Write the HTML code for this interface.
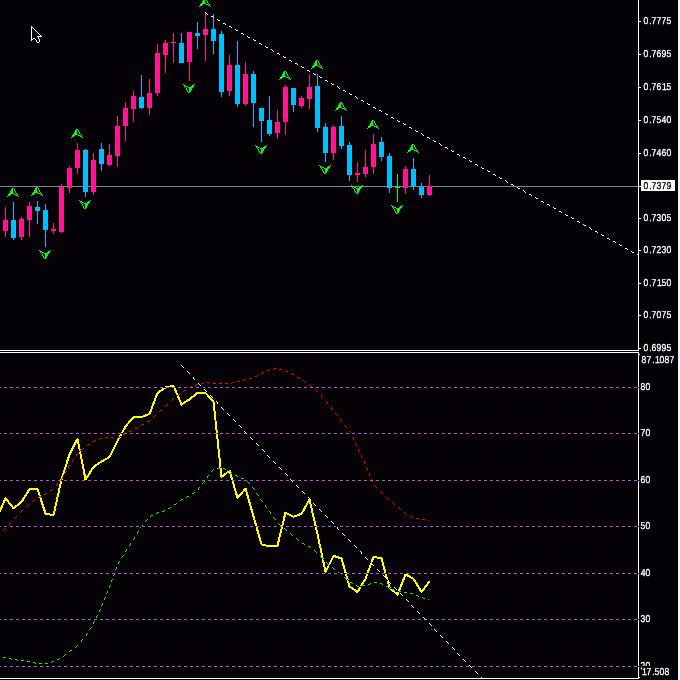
<!DOCTYPE html><html><head><meta charset="utf-8"><title>Chart</title><style>
html,body{margin:0;padding:0;background:#040206;overflow:hidden;}
svg{display:block;}
text{font-family:"Liberation Sans",sans-serif;font-size:10px;text-rendering:geometricPrecision;fill:#fff;}
.tx{will-change:transform;}.tx text{stroke-width:0.3px;paint-order:stroke;}
</style></head><body>
<svg width="680" height="680" viewBox="0 0 680 680">
<rect x="0" y="0" width="680" height="680" fill="#040206"/>
<rect x="678" y="0" width="2" height="680" fill="#FBF9F4"/>
<g shape-rendering="crispEdges">
<rect x="0" y="186" width="638" height="1" fill="#778899"/>
<rect x="5" y="207" width="1" height="30" fill="#FF1493"/>
<rect x="3" y="220" width="5" height="11" fill="#FF1493"/>
<rect x="13" y="202" width="1" height="38" fill="#00BFFF"/>
<rect x="11" y="220" width="5" height="18" fill="#00BFFF"/>
<rect x="21" y="217" width="1" height="23" fill="#FF1493"/>
<rect x="19" y="219" width="5" height="18" fill="#FF1493"/>
<rect x="29" y="202" width="1" height="35" fill="#FF1493"/>
<rect x="27" y="206" width="5" height="14" fill="#FF1493"/>
<rect x="37" y="201" width="1" height="23" fill="#00BFFF"/>
<rect x="35" y="207" width="5" height="4" fill="#00BFFF"/>
<rect x="45" y="204" width="1" height="43" fill="#00BFFF"/>
<rect x="43" y="210" width="5" height="20" fill="#00BFFF"/>
<rect x="53" y="223" width="1" height="11" fill="#FF1493"/>
<rect x="51" y="229" width="5" height="2" fill="#FF1493"/>
<rect x="61" y="184" width="1" height="49" fill="#FF1493"/>
<rect x="59" y="187" width="5" height="45" fill="#FF1493"/>
<rect x="69" y="166" width="1" height="27" fill="#FF1493"/>
<rect x="67" y="168" width="5" height="20" fill="#FF1493"/>
<rect x="77" y="143" width="1" height="31" fill="#FF1493"/>
<rect x="75" y="150" width="5" height="18" fill="#FF1493"/>
<rect x="85" y="149" width="1" height="48" fill="#00BFFF"/>
<rect x="83" y="150" width="5" height="42" fill="#00BFFF"/>
<rect x="93" y="153" width="1" height="42" fill="#FF1493"/>
<rect x="91" y="160" width="5" height="32" fill="#FF1493"/>
<rect x="101" y="143" width="1" height="28" fill="#00BFFF"/>
<rect x="99" y="149" width="5" height="15" fill="#00BFFF"/>
<rect x="109" y="144" width="1" height="22" fill="#FF1493"/>
<rect x="107" y="155" width="5" height="10" fill="#FF1493"/>
<rect x="117" y="116" width="1" height="51" fill="#FF1493"/>
<rect x="115" y="126" width="5" height="30" fill="#FF1493"/>
<rect x="125" y="102" width="1" height="39" fill="#FF1493"/>
<rect x="123" y="108" width="5" height="18" fill="#FF1493"/>
<rect x="133" y="91" width="1" height="31" fill="#FF1493"/>
<rect x="131" y="96" width="5" height="13" fill="#FF1493"/>
<rect x="141" y="75" width="1" height="34" fill="#00BFFF"/>
<rect x="139" y="97" width="5" height="11" fill="#00BFFF"/>
<rect x="149" y="79" width="1" height="36" fill="#FF1493"/>
<rect x="147" y="93" width="5" height="15" fill="#FF1493"/>
<rect x="157" y="44" width="1" height="52" fill="#FF1493"/>
<rect x="155" y="53" width="5" height="40" fill="#FF1493"/>
<rect x="165" y="40" width="1" height="33" fill="#FF1493"/>
<rect x="163" y="43" width="5" height="12" fill="#FF1493"/>
<rect x="173" y="33" width="1" height="30" fill="#FF1493"/>
<rect x="171" y="42" width="5" height="1" fill="#FF1493"/>
<rect x="181" y="33" width="1" height="30" fill="#00BFFF"/>
<rect x="179" y="43" width="5" height="20" fill="#00BFFF"/>
<rect x="189" y="32" width="1" height="49" fill="#FF1493"/>
<rect x="187" y="32" width="5" height="30" fill="#FF1493"/>
<rect x="197" y="22" width="1" height="27" fill="#00BFFF"/>
<rect x="195" y="33" width="5" height="3" fill="#00BFFF"/>
<rect x="205" y="12" width="1" height="49" fill="#FF1493"/>
<rect x="203" y="29" width="5" height="6" fill="#FF1493"/>
<rect x="213" y="14" width="1" height="40" fill="#00BFFF"/>
<rect x="211" y="29" width="5" height="12" fill="#00BFFF"/>
<rect x="221" y="31" width="1" height="66" fill="#00BFFF"/>
<rect x="219" y="34" width="5" height="58" fill="#00BFFF"/>
<rect x="229" y="55" width="1" height="41" fill="#FF1493"/>
<rect x="227" y="65" width="5" height="26" fill="#FF1493"/>
<rect x="237" y="41" width="1" height="66" fill="#00BFFF"/>
<rect x="235" y="65" width="5" height="39" fill="#00BFFF"/>
<rect x="245" y="62" width="1" height="44" fill="#FF1493"/>
<rect x="243" y="74" width="5" height="30" fill="#FF1493"/>
<rect x="253" y="71" width="1" height="56" fill="#00BFFF"/>
<rect x="251" y="74" width="5" height="29" fill="#00BFFF"/>
<rect x="261" y="108" width="1" height="34" fill="#00BFFF"/>
<rect x="259" y="108" width="5" height="13" fill="#00BFFF"/>
<rect x="269" y="96" width="1" height="40" fill="#00BFFF"/>
<rect x="267" y="120" width="5" height="14" fill="#00BFFF"/>
<rect x="277" y="110" width="1" height="29" fill="#FF1493"/>
<rect x="275" y="122" width="5" height="11" fill="#FF1493"/>
<rect x="285" y="85" width="1" height="50" fill="#FF1493"/>
<rect x="283" y="87" width="5" height="35" fill="#FF1493"/>
<rect x="293" y="88" width="1" height="24" fill="#00BFFF"/>
<rect x="291" y="88" width="5" height="17" fill="#00BFFF"/>
<rect x="301" y="96" width="1" height="12" fill="#FF1493"/>
<rect x="299" y="98" width="5" height="8" fill="#FF1493"/>
<rect x="309" y="74" width="1" height="35" fill="#FF1493"/>
<rect x="307" y="87" width="5" height="12" fill="#FF1493"/>
<rect x="317" y="74" width="1" height="58" fill="#00BFFF"/>
<rect x="315" y="86" width="5" height="42" fill="#00BFFF"/>
<rect x="325" y="123" width="1" height="39" fill="#00BFFF"/>
<rect x="323" y="127" width="5" height="26" fill="#00BFFF"/>
<rect x="333" y="125" width="1" height="35" fill="#FF1493"/>
<rect x="331" y="127" width="5" height="26" fill="#FF1493"/>
<rect x="341" y="116" width="1" height="33" fill="#00BFFF"/>
<rect x="339" y="126" width="5" height="20" fill="#00BFFF"/>
<rect x="349" y="142" width="1" height="39" fill="#00BFFF"/>
<rect x="347" y="145" width="5" height="30" fill="#00BFFF"/>
<rect x="357" y="162" width="1" height="20" fill="#FF1493"/>
<rect x="355" y="173" width="5" height="2" fill="#FF1493"/>
<rect x="365" y="150" width="1" height="27" fill="#FF1493"/>
<rect x="363" y="167" width="5" height="7" fill="#FF1493"/>
<rect x="373" y="134" width="1" height="40" fill="#FF1493"/>
<rect x="371" y="144" width="5" height="23" fill="#FF1493"/>
<rect x="381" y="137" width="1" height="24" fill="#00BFFF"/>
<rect x="379" y="142" width="5" height="15" fill="#00BFFF"/>
<rect x="389" y="153" width="1" height="40" fill="#00BFFF"/>
<rect x="387" y="156" width="5" height="32" fill="#00BFFF"/>
<rect x="397" y="174" width="1" height="28" fill="#00FF00"/>
<rect x="395" y="187" width="5" height="1" fill="#00FF00"/>
<rect x="405" y="166" width="1" height="28" fill="#FF1493"/>
<rect x="403" y="169" width="5" height="19" fill="#FF1493"/>
<rect x="413" y="158" width="1" height="32" fill="#00BFFF"/>
<rect x="411" y="169" width="5" height="17" fill="#00BFFF"/>
<rect x="421" y="183" width="1" height="15" fill="#00BFFF"/>
<rect x="419" y="187" width="5" height="8" fill="#00BFFF"/>
<rect x="429" y="175" width="1" height="21" fill="#FF1493"/>
<rect x="427" y="186" width="5" height="9" fill="#FF1493"/>
</g>
<path d="M12 188h2v1h-2zM11 189h2v1h-2zM14 189h1v1h-1zM11 190h2v1h-2zM14 190h1v1h-1zM10 191h3v1h-3zM15 191h1v1h-1zM10 192h3v1h-3zM15 192h1v1h-1zM9 193h5v1h-5zM16 193h1v1h-1zM8 194h3v1h-3zM14 194h2v1h-2zM17 194h1v1h-1zM8 195h2v1h-2zM16 195h2v1h-2zM7 196h1v1h-1zM18 196h1v1h-1z" fill="#00FF00" shape-rendering="crispEdges"/>
<path d="M36 187h2v1h-2zM35 188h2v1h-2zM38 188h1v1h-1zM35 189h2v1h-2zM38 189h1v1h-1zM34 190h3v1h-3zM39 190h1v1h-1zM34 191h3v1h-3zM39 191h1v1h-1zM33 192h5v1h-5zM40 192h1v1h-1zM32 193h3v1h-3zM38 193h2v1h-2zM41 193h1v1h-1zM32 194h2v1h-2zM40 194h2v1h-2zM31 195h1v1h-1zM42 195h1v1h-1z" fill="#00FF00" shape-rendering="crispEdges"/>
<path d="M76 129h2v1h-2zM75 130h2v1h-2zM78 130h1v1h-1zM75 131h2v1h-2zM78 131h1v1h-1zM74 132h3v1h-3zM79 132h1v1h-1zM74 133h3v1h-3zM79 133h1v1h-1zM73 134h5v1h-5zM80 134h1v1h-1zM72 135h3v1h-3zM78 135h2v1h-2zM81 135h1v1h-1zM72 136h2v1h-2zM80 136h2v1h-2zM71 137h1v1h-1zM82 137h1v1h-1z" fill="#00FF00" shape-rendering="crispEdges"/>
<path d="M204 -2h2v1h-2zM203 -1h2v1h-2zM206 -1h1v1h-1zM203 0h2v1h-2zM206 0h1v1h-1zM202 1h3v1h-3zM207 1h1v1h-1zM202 2h3v1h-3zM207 2h1v1h-1zM201 3h5v1h-5zM208 3h1v1h-1zM200 4h3v1h-3zM206 4h2v1h-2zM209 4h1v1h-1zM200 5h2v1h-2zM208 5h2v1h-2zM199 6h1v1h-1zM210 6h1v1h-1z" fill="#00FF00" shape-rendering="crispEdges"/>
<path d="M284 71h2v1h-2zM283 72h2v1h-2zM286 72h1v1h-1zM283 73h2v1h-2zM286 73h1v1h-1zM282 74h3v1h-3zM287 74h1v1h-1zM282 75h3v1h-3zM287 75h1v1h-1zM281 76h5v1h-5zM288 76h1v1h-1zM280 77h3v1h-3zM286 77h2v1h-2zM289 77h1v1h-1zM280 78h2v1h-2zM288 78h2v1h-2zM279 79h1v1h-1zM290 79h1v1h-1z" fill="#00FF00" shape-rendering="crispEdges"/>
<path d="M316 60h2v1h-2zM315 61h2v1h-2zM318 61h1v1h-1zM315 62h2v1h-2zM318 62h1v1h-1zM314 63h3v1h-3zM319 63h1v1h-1zM314 64h3v1h-3zM319 64h1v1h-1zM313 65h5v1h-5zM320 65h1v1h-1zM312 66h3v1h-3zM318 66h2v1h-2zM321 66h1v1h-1zM312 67h2v1h-2zM320 67h2v1h-2zM311 68h1v1h-1zM322 68h1v1h-1z" fill="#00FF00" shape-rendering="crispEdges"/>
<path d="M340 102h2v1h-2zM339 103h2v1h-2zM342 103h1v1h-1zM339 104h2v1h-2zM342 104h1v1h-1zM338 105h3v1h-3zM343 105h1v1h-1zM338 106h3v1h-3zM343 106h1v1h-1zM337 107h5v1h-5zM344 107h1v1h-1zM336 108h3v1h-3zM342 108h2v1h-2zM345 108h1v1h-1zM336 109h2v1h-2zM344 109h2v1h-2zM335 110h1v1h-1zM346 110h1v1h-1z" fill="#00FF00" shape-rendering="crispEdges"/>
<path d="M372 120h2v1h-2zM371 121h2v1h-2zM374 121h1v1h-1zM371 122h2v1h-2zM374 122h1v1h-1zM370 123h3v1h-3zM375 123h1v1h-1zM370 124h3v1h-3zM375 124h1v1h-1zM369 125h5v1h-5zM376 125h1v1h-1zM368 126h3v1h-3zM374 126h2v1h-2zM377 126h1v1h-1zM368 127h2v1h-2zM376 127h2v1h-2zM367 128h1v1h-1zM378 128h1v1h-1z" fill="#00FF00" shape-rendering="crispEdges"/>
<path d="M412 144h2v1h-2zM411 145h2v1h-2zM414 145h1v1h-1zM411 146h2v1h-2zM414 146h1v1h-1zM410 147h3v1h-3zM415 147h1v1h-1zM410 148h3v1h-3zM415 148h1v1h-1zM409 149h5v1h-5zM416 149h1v1h-1zM408 150h3v1h-3zM414 150h2v1h-2zM417 150h1v1h-1zM408 151h2v1h-2zM416 151h2v1h-2zM407 152h1v1h-1zM418 152h1v1h-1z" fill="#00FF00" shape-rendering="crispEdges"/>
<path d="M39 250h1v1h-1zM50 250h1v1h-1zM40 251h2v1h-2zM48 251h2v1h-2zM40 252h1v1h-1zM42 252h2v1h-2zM47 252h3v1h-3zM41 253h1v1h-1zM44 253h5v1h-5zM42 254h1v1h-1zM45 254h3v1h-3zM42 255h1v1h-1zM45 255h3v1h-3zM43 256h1v1h-1zM45 256h2v1h-2zM43 257h1v1h-1zM45 257h2v1h-2zM44 258h2v1h-2z" fill="#00FF00" shape-rendering="crispEdges"/>
<path d="M79 200h1v1h-1zM90 200h1v1h-1zM80 201h2v1h-2zM88 201h2v1h-2zM80 202h1v1h-1zM82 202h2v1h-2zM87 202h3v1h-3zM81 203h1v1h-1zM84 203h5v1h-5zM82 204h1v1h-1zM85 204h3v1h-3zM82 205h1v1h-1zM85 205h3v1h-3zM83 206h1v1h-1zM85 206h2v1h-2zM83 207h1v1h-1zM85 207h2v1h-2zM84 208h2v1h-2z" fill="#00FF00" shape-rendering="crispEdges"/>
<path d="M183 84h1v1h-1zM194 84h1v1h-1zM184 85h2v1h-2zM192 85h2v1h-2zM184 86h1v1h-1zM186 86h2v1h-2zM191 86h3v1h-3zM185 87h1v1h-1zM188 87h5v1h-5zM186 88h1v1h-1zM189 88h3v1h-3zM186 89h1v1h-1zM189 89h3v1h-3zM187 90h1v1h-1zM189 90h2v1h-2zM187 91h1v1h-1zM189 91h2v1h-2zM188 92h2v1h-2z" fill="#00FF00" shape-rendering="crispEdges"/>
<path d="M255 145h1v1h-1zM266 145h1v1h-1zM256 146h2v1h-2zM264 146h2v1h-2zM256 147h1v1h-1zM258 147h2v1h-2zM263 147h3v1h-3zM257 148h1v1h-1zM260 148h5v1h-5zM258 149h1v1h-1zM261 149h3v1h-3zM258 150h1v1h-1zM261 150h3v1h-3zM259 151h1v1h-1zM261 151h2v1h-2zM259 152h1v1h-1zM261 152h2v1h-2zM260 153h2v1h-2z" fill="#00FF00" shape-rendering="crispEdges"/>
<path d="M319 165h1v1h-1zM330 165h1v1h-1zM320 166h2v1h-2zM328 166h2v1h-2zM320 167h1v1h-1zM322 167h2v1h-2zM327 167h3v1h-3zM321 168h1v1h-1zM324 168h5v1h-5zM322 169h1v1h-1zM325 169h3v1h-3zM322 170h1v1h-1zM325 170h3v1h-3zM323 171h1v1h-1zM325 171h2v1h-2zM323 172h1v1h-1zM325 172h2v1h-2zM324 173h2v1h-2z" fill="#00FF00" shape-rendering="crispEdges"/>
<path d="M351 185h1v1h-1zM362 185h1v1h-1zM352 186h2v1h-2zM360 186h2v1h-2zM352 187h1v1h-1zM354 187h2v1h-2zM359 187h3v1h-3zM353 188h1v1h-1zM356 188h5v1h-5zM354 189h1v1h-1zM357 189h3v1h-3zM354 190h1v1h-1zM357 190h3v1h-3zM355 191h1v1h-1zM357 191h2v1h-2zM355 192h1v1h-1zM357 192h2v1h-2zM356 193h2v1h-2z" fill="#00FF00" shape-rendering="crispEdges"/>
<path d="M391 205h1v1h-1zM402 205h1v1h-1zM392 206h2v1h-2zM400 206h2v1h-2zM392 207h1v1h-1zM394 207h2v1h-2zM399 207h3v1h-3zM393 208h1v1h-1zM396 208h5v1h-5zM394 209h1v1h-1zM397 209h3v1h-3zM394 210h1v1h-1zM397 210h3v1h-3zM395 211h1v1h-1zM397 211h2v1h-2zM395 212h1v1h-1zM397 212h2v1h-2zM396 213h2v1h-2z" fill="#00FF00" shape-rendering="crispEdges"/>
<path d="M205 12h1v1h-1zM206 13h1v1h-1zM207 14h1v1h-1zM211 16h2v1h-2zM213 17h1v1h-1zM217 19h1v1h-1zM218 20h2v1h-2zM223 23h2v1h-2zM225 24h1v1h-1zM229 26h2v1h-2zM231 27h1v1h-1zM235 29h1v1h-1zM236 30h2v1h-2zM241 33h2v1h-2zM243 34h1v1h-1zM247 36h1v1h-1zM248 37h2v1h-2zM253 39h1v1h-1zM254 40h2v1h-2zM259 43h2v1h-2zM261 44h1v1h-1zM265 46h1v1h-1zM266 47h2v1h-2zM271 49h1v1h-1zM272 50h1v1h-1zM273 51h1v1h-1zM277 53h2v1h-2zM279 54h1v1h-1zM283 56h1v1h-1zM284 57h2v1h-2zM289 60h2v1h-2zM291 61h1v1h-1zM295 63h2v1h-2zM297 64h1v1h-1zM301 66h1v1h-1zM302 67h2v1h-2zM307 70h2v1h-2zM309 71h1v1h-1zM313 73h1v1h-1zM314 74h2v1h-2zM319 76h1v1h-1zM320 77h2v1h-2zM325 80h2v1h-2zM327 81h1v1h-1zM331 83h1v1h-1zM332 84h2v1h-2zM337 86h1v1h-1zM338 87h1v1h-1zM339 88h1v1h-1zM343 90h2v1h-2zM345 91h1v1h-1zM349 93h1v1h-1zM350 94h2v1h-2zM355 96h1v1h-1zM356 97h1v1h-1zM357 98h1v1h-1zM361 100h2v1h-2zM363 101h1v1h-1zM367 103h1v1h-1zM368 104h2v1h-2zM373 107h2v1h-2zM375 108h1v1h-1zM379 110h2v1h-2zM381 111h1v1h-1zM385 113h1v1h-1zM386 114h2v1h-2zM391 117h2v1h-2zM393 118h1v1h-1zM397 120h1v1h-1zM398 121h2v1h-2zM403 123h1v1h-1zM404 124h2v1h-2zM409 127h2v1h-2zM411 128h1v1h-1zM415 130h1v1h-1zM416 131h2v1h-2zM421 133h1v1h-1zM422 134h1v1h-1zM423 135h1v1h-1zM427 137h2v1h-2zM429 138h1v1h-1zM433 140h1v1h-1zM434 141h2v1h-2zM439 143h1v1h-1zM440 144h1v1h-1zM441 145h1v1h-1zM445 147h2v1h-2zM447 148h1v1h-1zM451 150h1v1h-1zM452 151h2v1h-2zM457 154h2v1h-2zM459 155h1v1h-1zM463 157h2v1h-2zM465 158h1v1h-1zM469 160h1v1h-1zM470 161h2v1h-2zM475 164h2v1h-2zM477 165h1v1h-1zM481 167h1v1h-1zM482 168h2v1h-2zM487 170h1v1h-1zM488 171h2v1h-2zM493 174h2v1h-2zM495 175h1v1h-1zM499 177h1v1h-1zM500 178h2v1h-2zM505 180h1v1h-1zM506 181h1v1h-1zM507 182h1v1h-1zM511 184h2v1h-2zM513 185h1v1h-1zM517 187h1v1h-1zM518 188h2v1h-2zM523 190h1v1h-1zM524 191h1v1h-1zM525 192h1v1h-1zM529 194h2v1h-2zM531 195h1v1h-1zM535 197h1v1h-1zM536 198h2v1h-2zM541 201h2v1h-2zM543 202h1v1h-1zM547 204h2v1h-2zM549 205h1v1h-1zM553 207h1v1h-1zM554 208h2v1h-2zM559 211h2v1h-2zM561 212h1v1h-1zM565 214h1v1h-1zM566 215h2v1h-2zM571 217h1v1h-1zM572 218h2v1h-2zM577 221h2v1h-2zM579 222h1v1h-1zM583 224h1v1h-1zM584 225h2v1h-2zM589 227h1v1h-1zM590 228h1v1h-1zM591 229h1v1h-1zM595 231h2v1h-2zM597 232h1v1h-1zM601 234h1v1h-1zM602 235h2v1h-2zM607 238h2v1h-2zM609 239h1v1h-1zM613 241h2v1h-2zM615 242h1v1h-1zM619 244h1v1h-1zM620 245h2v1h-2zM625 248h2v1h-2zM627 249h1v1h-1zM631 251h1v1h-1zM632 252h2v1h-2zM637 254h1v1h-1z" fill="#FFFFFF" shape-rendering="crispEdges"/>
<g shape-rendering="crispEdges" fill="#FFFFFF">
<rect x="0" y="350" width="639" height="1"/>
<rect x="638" y="0" width="1" height="351"/>
<rect x="0" y="352" width="639" height="1"/>
<rect x="638" y="352" width="1" height="327"/>
<rect x="0" y="678" width="639" height="1"/>
</g>
<g shape-rendering="crispEdges" fill="#FFFFFF">
<rect x="639" y="21" width="2" height="1"/>
<rect x="639" y="54" width="2" height="1"/>
<rect x="639" y="87" width="2" height="1"/>
<rect x="639" y="120" width="2" height="1"/>
<rect x="639" y="153" width="2" height="1"/>
<rect x="639" y="218" width="2" height="1"/>
<rect x="639" y="250" width="2" height="1"/>
<rect x="639" y="283" width="2" height="1"/>
<rect x="639" y="315" width="2" height="1"/>
<rect x="639" y="348" width="2" height="1"/>
</g>
<g class="tx">
<text transform="translate(0 24) scale(0.86 1)" x="748.38 755.01 757.68 763.49 769.31 775.14" y="0" style="fill:#FFFFFF;stroke:#FFFFFF">0.7775</text>
<text transform="translate(0 57) scale(0.86 1)" x="748.38 755.01 757.68 763.46 769.31 775.14" y="0" style="fill:#FFFFFF;stroke:#FFFFFF">0.7695</text>
<text transform="translate(0 90) scale(0.86 1)" x="748.38 755.01 757.68 763.46 769.76 775.14" y="0" style="fill:#FFFFFF;stroke:#FFFFFF">0.7615</text>
<text transform="translate(0 123) scale(0.86 1)" x="748.38 755.01 757.68 763.51 769.34 775.13" y="0" style="fill:#FFFFFF;stroke:#FFFFFF">0.7540</text>
<text transform="translate(0 156) scale(0.86 1)" x="748.38 755.01 757.68 763.53 769.28 775.13" y="0" style="fill:#FFFFFF;stroke:#FFFFFF">0.7460</text>
<text transform="translate(0 221) scale(0.86 1)" x="748.38 755.01 757.68 763.53 769.31 775.14" y="0" style="fill:#FFFFFF;stroke:#FFFFFF">0.7305</text>
<text transform="translate(0 253) scale(0.86 1)" x="748.38 755.01 757.68 763.50 769.34 775.13" y="0" style="fill:#FFFFFF;stroke:#FFFFFF">0.7230</text>
<text transform="translate(0 286) scale(0.86 1)" x="748.38 755.01 757.68 763.94 769.32 775.13" y="0" style="fill:#FFFFFF;stroke:#FFFFFF">0.7150</text>
<text transform="translate(0 318) scale(0.86 1)" x="748.38 755.01 757.68 763.50 769.31 775.14" y="0" style="fill:#FFFFFF;stroke:#FFFFFF">0.7075</text>
<text transform="translate(0 351) scale(0.86 1)" x="748.38 755.01 757.65 763.50 769.31 775.14" y="0" style="fill:#FFFFFF;stroke:#FFFFFF">0.6995</text>
</g>
<rect x="641" y="180" width="34" height="11" fill="#FFFFFF" shape-rendering="crispEdges"/>
<rect x="639" y="186" width="2" height="1" fill="#FFFFFF" shape-rendering="crispEdges"/>
<g class="tx"><text transform="translate(0 189) scale(0.86 1)" x="748.38 755.01 757.68 763.53 769.31 775.13" y="0" style="fill:#000000;stroke:#000000">0.7379</text></g>
<polyline points="-2.5,517.0 5.5,498.0 13.5,508.3 21.5,502.0 29.5,489.0 37.5,489.0 45.5,513.7 53.5,515.2 61.5,479.5 69.5,454.4 77.5,438.8 85.5,479.5 93.5,467.0 101.5,461.5 109.5,457.0 117.5,441.0 125.5,426.5 133.5,417.0 141.5,417.0 149.5,414.0 157.5,393.0 165.5,387.4 173.5,385.8 181.5,404.5 189.5,399.4 197.5,392.9 205.5,392.9 213.5,401.5 221.5,477.0 229.5,470.6 237.5,498.0 245.5,488.6 253.5,516.5 261.5,544.3 269.5,546.5 277.5,545.6 285.5,512.6 293.5,516.8 301.5,513.8 309.5,499.7 317.5,534.1 325.5,572.0 333.5,555.9 341.5,558.5 349.5,586.5 357.5,592.0 365.5,578.8 373.5,556.8 381.5,558.5 389.5,587.6 397.5,594.7 405.5,574.3 413.5,578.8 421.5,592.0 429.5,581.5" fill="none" stroke="#FFFF00" stroke-width="2" stroke-linejoin="round" shape-rendering="crispEdges"/>
<path d="M276 368h3v1h-3zM270 369h3v1h-3zM282 369h1v1h-1zM283 370h2v1h-2zM265 371h2v1h-2zM264 372h1v1h-1zM288 372h2v1h-2zM290 373h1v1h-1zM259 374h2v1h-2zM258 375h1v1h-1zM294 375h2v1h-2zM296 376h1v1h-1zM252 377h3v1h-3zM248 378h1v1h-1zM300 378h1v1h-1zM246 379h2v1h-2zM301 379h1v1h-1zM240 380h3v1h-3zM302 380h1v1h-1zM236 381h1v1h-1zM204 382h3v1h-3zM234 382h2v1h-2zM306 382h1v1h-1zM200 383h1v1h-1zM210 383h3v1h-3zM216 383h3v1h-3zM222 383h3v1h-3zM228 383h3v1h-3zM307 383h2v1h-2zM198 384h2v1h-2zM194 385h1v1h-1zM192 386h2v1h-2zM312 387h1v1h-1zM187 388h2v1h-2zM313 388h2v1h-2zM186 389h1v1h-1zM182 391h1v1h-1zM181 392h1v1h-1zM318 392h1v1h-1zM180 393h1v1h-1zM319 393h1v1h-1zM320 394h1v1h-1zM176 396h1v1h-1zM174 397h2v1h-2zM323 398h1v1h-1zM324 399h1v1h-1zM325 400h1v1h-1zM170 401h1v1h-1zM169 402h1v1h-1zM168 403h1v1h-1zM328 404h1v1h-1zM329 405h1v1h-1zM330 406h1v1h-1zM164 407h1v1h-1zM163 408h1v1h-1zM162 409h1v1h-1zM333 410h1v1h-1zM334 411h1v1h-1zM158 412h1v1h-1zM334 412h1v1h-1zM157 413h1v1h-1zM156 414h1v1h-1zM337 416h1v1h-1zM152 417h1v1h-1zM338 417h1v1h-1zM151 418h1v1h-1zM339 418h1v1h-1zM150 419h1v1h-1zM146 422h1v1h-1zM342 422h1v1h-1zM144 423h2v1h-2zM343 423h1v1h-1zM343 424h1v1h-1zM139 426h2v1h-2zM138 427h1v1h-1zM347 428h1v1h-1zM133 429h2v1h-2zM347 429h1v1h-1zM132 430h1v1h-1zM348 430h1v1h-1zM127 432h2v1h-2zM126 433h1v1h-1zM351 434h1v1h-1zM122 435h1v1h-1zM351 435h1v1h-1zM120 436h2v1h-2zM352 436h1v1h-1zM108 437h3v1h-3zM102 438h3v1h-3zM114 438h3v1h-3zM98 439h1v1h-1zM96 440h2v1h-2zM354 440h1v1h-1zM354 441h1v1h-1zM91 442h2v1h-2zM355 442h1v1h-1zM90 443h1v1h-1zM86 445h1v1h-1zM85 446h1v1h-1zM357 446h1v1h-1zM84 447h1v1h-1zM357 447h1v1h-1zM357 448h1v1h-1zM80 450h1v1h-1zM79 451h1v1h-1zM78 452h1v1h-1zM359 452h1v1h-1zM360 453h1v1h-1zM360 454h1v1h-1zM75 456h1v1h-1zM74 457h1v1h-1zM74 458h1v1h-1zM362 458h1v1h-1zM363 459h1v1h-1zM363 460h1v1h-1zM71 462h1v1h-1zM70 463h1v1h-1zM70 464h1v1h-1zM365 464h1v1h-1zM365 465h1v1h-1zM366 466h1v1h-1zM67 468h1v1h-1zM67 469h1v1h-1zM66 470h1v1h-1zM367 470h1v1h-1zM368 471h1v1h-1zM368 472h1v1h-1zM64 474h1v1h-1zM63 475h1v1h-1zM63 476h1v1h-1zM370 476h1v1h-1zM370 477h1v1h-1zM371 478h1v1h-1zM60 480h1v1h-1zM59 481h1v1h-1zM58 482h1v1h-1zM372 482h1v1h-1zM373 483h1v1h-1zM373 484h1v1h-1zM55 486h1v1h-1zM54 487h1v1h-1zM53 488h1v1h-1zM377 488h1v1h-1zM378 489h1v1h-1zM379 490h1v1h-1zM49 491h1v1h-1zM48 492h1v1h-1zM47 493h1v1h-1zM383 494h1v1h-1zM42 495h2v1h-2zM384 495h1v1h-1zM41 496h1v1h-1zM385 496h1v1h-1zM37 497h1v1h-1zM36 498h1v1h-1zM35 499h1v1h-1zM389 500h1v1h-1zM390 501h1v1h-1zM30 502h2v1h-2zM391 502h1v1h-1zM29 503h1v1h-1zM395 505h2v1h-2zM397 506h1v1h-1zM25 507h1v1h-1zM24 508h1v1h-1zM23 509h1v1h-1zM401 510h2v1h-2zM403 511h1v1h-1zM19 513h1v1h-1zM18 514h1v1h-1zM407 514h1v1h-1zM17 515h1v1h-1zM408 515h2v1h-2zM413 517h2v1h-2zM415 518h1v1h-1zM13 519h1v1h-1zM419 519h3v1h-3zM12 520h1v1h-1zM425 520h3v1h-3zM11 521h1v1h-1zM8 525h1v1h-1zM7 526h1v1h-1zM6 527h1v1h-1zM2 531h1v1h-1zM1 532h1v1h-1zM0 533h1v1h-1z" fill="#040206" shape-rendering="crispEdges"/><path d="M274 368h2v1h-2zM269 369h1v1h-1zM273 369h1v1h-1zM279 369h3v1h-3zM267 370h2v1h-2zM285 370h1v1h-1zM286 371h2v1h-2zM263 372h1v1h-1zM261 373h2v1h-2zM291 373h1v1h-1zM292 374h2v1h-2zM257 375h1v1h-1zM255 376h2v1h-2zM297 377h2v1h-2zM249 378h3v1h-3zM299 378h1v1h-1zM244 379h2v1h-2zM243 380h1v1h-1zM303 380h1v1h-1zM237 381h3v1h-3zM304 381h1v1h-1zM207 382h2v1h-2zM232 382h2v1h-2zM305 382h1v1h-1zM201 383h3v1h-3zM209 383h1v1h-1zM213 383h3v1h-3zM219 383h3v1h-3zM225 383h3v1h-3zM231 383h1v1h-1zM196 384h2v1h-2zM309 384h1v1h-1zM195 385h1v1h-1zM310 385h1v1h-1zM191 386h1v1h-1zM311 386h1v1h-1zM189 387h2v1h-2zM315 389h1v1h-1zM184 390h2v1h-2zM316 390h1v1h-1zM183 391h1v1h-1zM317 391h1v1h-1zM178 394h2v1h-2zM177 395h1v1h-1zM321 395h1v1h-1zM321 396h1v1h-1zM322 397h1v1h-1zM173 398h1v1h-1zM172 399h1v1h-1zM171 400h1v1h-1zM326 401h1v1h-1zM327 402h1v1h-1zM327 403h1v1h-1zM167 404h1v1h-1zM166 405h1v1h-1zM165 406h1v1h-1zM331 407h1v1h-1zM331 408h1v1h-1zM332 409h1v1h-1zM160 410h2v1h-2zM159 411h1v1h-1zM335 413h1v1h-1zM336 414h1v1h-1zM155 415h1v1h-1zM337 415h1v1h-1zM154 416h1v1h-1zM153 417h1v1h-1zM340 419h1v1h-1zM149 420h1v1h-1zM340 420h1v1h-1zM147 421h2v1h-2zM341 421h1v1h-1zM142 424h2v1h-2zM141 425h1v1h-1zM344 425h1v1h-1zM345 426h1v1h-1zM137 427h1v1h-1zM346 427h1v1h-1zM135 428h2v1h-2zM131 430h1v1h-1zM129 431h2v1h-2zM349 431h1v1h-1zM350 432h1v1h-1zM125 433h1v1h-1zM350 433h1v1h-1zM123 434h2v1h-2zM106 437h2v1h-2zM111 437h2v1h-2zM118 437h2v1h-2zM352 437h1v1h-1zM100 438h2v1h-2zM105 438h1v1h-1zM113 438h1v1h-1zM117 438h1v1h-1zM353 438h1v1h-1zM99 439h1v1h-1zM353 439h1v1h-1zM95 440h1v1h-1zM93 441h2v1h-2zM355 443h1v1h-1zM88 444h2v1h-2zM356 444h1v1h-1zM87 445h1v1h-1zM356 445h1v1h-1zM83 448h1v1h-1zM82 449h1v1h-1zM358 449h1v1h-1zM81 450h1v1h-1zM358 450h1v1h-1zM359 451h1v1h-1zM77 453h1v1h-1zM76 454h1v1h-1zM76 455h1v1h-1zM361 455h1v1h-1zM361 456h1v1h-1zM362 457h1v1h-1zM73 459h1v1h-1zM72 460h1v1h-1zM72 461h1v1h-1zM364 461h1v1h-1zM364 462h1v1h-1zM365 463h1v1h-1zM69 465h1v1h-1zM68 466h1v1h-1zM68 467h1v1h-1zM366 467h1v1h-1zM367 468h1v1h-1zM367 469h1v1h-1zM66 471h1v1h-1zM65 472h1v1h-1zM64 473h1v1h-1zM369 473h1v1h-1zM369 474h1v1h-1zM369 475h1v1h-1zM62 477h1v1h-1zM62 478h1v1h-1zM61 479h1v1h-1zM371 479h1v1h-1zM371 480h1v1h-1zM372 481h1v1h-1zM57 483h1v1h-1zM57 484h1v1h-1zM56 485h1v1h-1zM374 485h1v1h-1zM375 486h1v1h-1zM376 487h1v1h-1zM52 489h1v1h-1zM50 490h2v1h-2zM380 491h1v1h-1zM381 492h1v1h-1zM46 493h1v1h-1zM382 493h1v1h-1zM44 494h2v1h-2zM39 496h2v1h-2zM38 497h1v1h-1zM386 497h1v1h-1zM387 498h1v1h-1zM34 499h1v1h-1zM388 499h1v1h-1zM33 500h1v1h-1zM32 501h1v1h-1zM392 502h1v1h-1zM393 503h1v1h-1zM28 504h1v1h-1zM394 504h1v1h-1zM27 505h1v1h-1zM26 506h1v1h-1zM398 507h1v1h-1zM399 508h1v1h-1zM400 509h1v1h-1zM22 510h1v1h-1zM21 511h1v1h-1zM20 512h1v1h-1zM404 512h1v1h-1zM405 513h1v1h-1zM406 514h1v1h-1zM16 516h1v1h-1zM410 516h2v1h-2zM15 517h1v1h-1zM412 517h1v1h-1zM14 518h1v1h-1zM416 518h3v1h-3zM422 519h3v1h-3zM428 520h1v1h-1zM10 522h1v1h-1zM9 523h1v1h-1zM9 524h1v1h-1zM5 528h1v1h-1zM4 529h1v1h-1zM3 530h1v1h-1zM-1 534h1v1h-1zM-2 535h1v1h-1zM-3 536h1v1h-1z" fill="#FF0000" shape-rendering="crispEdges"/>
<path d="M220 467h3v1h-3zM216 468h1v1h-1zM214 469h2v1h-2zM226 469h2v1h-2zM228 470h1v1h-1zM211 472h1v1h-1zM232 472h1v1h-1zM210 473h1v1h-1zM233 473h1v1h-1zM209 474h1v1h-1zM234 474h1v1h-1zM238 476h1v1h-1zM239 477h2v1h-2zM206 478h1v1h-1zM205 479h1v1h-1zM244 479h2v1h-2zM204 480h1v1h-1zM246 480h1v1h-1zM201 484h1v1h-1zM249 484h1v1h-1zM201 485h1v1h-1zM250 485h1v1h-1zM200 486h1v1h-1zM251 486h1v1h-1zM197 490h1v1h-1zM254 490h1v1h-1zM195 491h2v1h-2zM255 491h1v1h-1zM256 492h1v1h-1zM190 494h2v1h-2zM189 495h1v1h-1zM258 496h1v1h-1zM185 497h1v1h-1zM259 497h1v1h-1zM183 498h2v1h-2zM260 498h1v1h-1zM178 501h2v1h-2zM177 502h1v1h-1zM262 502h1v1h-1zM263 503h1v1h-1zM264 504h1v1h-1zM173 505h1v1h-1zM171 506h2v1h-2zM267 508h1v1h-1zM166 509h2v1h-2zM268 509h1v1h-1zM165 510h1v1h-1zM268 510h1v1h-1zM160 511h2v1h-2zM159 512h1v1h-1zM155 513h1v1h-1zM153 514h2v1h-2zM271 514h1v1h-1zM272 515h1v1h-1zM149 516h1v1h-1zM273 516h1v1h-1zM148 517h1v1h-1zM147 518h1v1h-1zM276 520h1v1h-1zM276 521h1v1h-1zM144 522h1v1h-1zM277 522h1v1h-1zM143 523h1v1h-1zM143 524h1v1h-1zM281 526h2v1h-2zM283 527h1v1h-1zM140 528h1v1h-1zM139 529h1v1h-1zM139 530h1v1h-1zM287 531h1v1h-1zM288 532h1v1h-1zM289 533h1v1h-1zM136 534h1v1h-1zM135 535h1v1h-1zM135 536h1v1h-1zM293 536h1v1h-1zM294 537h1v1h-1zM295 538h1v1h-1zM132 540h1v1h-1zM132 541h1v1h-1zM299 541h2v1h-2zM131 542h1v1h-1zM301 542h1v1h-1zM305 544h1v1h-1zM306 545h2v1h-2zM128 546h1v1h-1zM128 547h1v1h-1zM127 548h1v1h-1zM311 548h1v1h-1zM312 549h1v1h-1zM313 550h1v1h-1zM124 552h1v1h-1zM124 553h1v1h-1zM317 553h1v1h-1zM123 554h1v1h-1zM318 554h1v1h-1zM319 555h1v1h-1zM121 558h1v1h-1zM120 559h1v1h-1zM323 559h1v1h-1zM119 560h1v1h-1zM324 560h1v1h-1zM325 561h1v1h-1zM117 564h1v1h-1zM117 565h1v1h-1zM329 565h2v1h-2zM116 566h1v1h-1zM331 566h1v1h-1zM115 570h1v1h-1zM335 570h2v1h-2zM115 571h1v1h-1zM337 571h1v1h-1zM114 572h1v1h-1zM341 574h1v1h-1zM342 575h1v1h-1zM113 576h1v1h-1zM343 576h1v1h-1zM112 577h1v1h-1zM112 578h1v1h-1zM347 579h1v1h-1zM348 580h1v1h-1zM349 581h1v1h-1zM111 582h1v1h-1zM372 582h2v1h-2zM110 583h1v1h-1zM371 583h1v1h-1zM377 583h3v1h-3zM110 584h1v1h-1zM353 584h2v1h-2zM367 584h1v1h-1zM383 584h1v1h-1zM355 585h1v1h-1zM365 585h2v1h-2zM384 585h2v1h-2zM359 586h3v1h-3zM389 587h1v1h-1zM109 588h1v1h-1zM390 588h2v1h-2zM108 589h1v1h-1zM108 590h1v1h-1zM395 590h1v1h-1zM396 591h2v1h-2zM401 592h3v1h-3zM407 592h2v1h-2zM409 593h1v1h-1zM413 593h1v1h-1zM106 594h1v1h-1zM414 594h2v1h-2zM106 595h1v1h-1zM105 596h1v1h-1zM419 596h1v1h-1zM420 597h2v1h-2zM425 598h2v1h-2zM427 599h1v1h-1zM104 600h1v1h-1zM103 601h1v1h-1zM103 602h1v1h-1zM101 606h1v1h-1zM101 607h1v1h-1zM100 608h1v1h-1zM98 612h1v1h-1zM98 613h1v1h-1zM97 614h1v1h-1zM95 618h1v1h-1zM95 619h1v1h-1zM94 620h1v1h-1zM92 624h1v1h-1zM92 625h1v1h-1zM91 626h1v1h-1zM89 630h1v1h-1zM88 631h1v1h-1zM87 632h1v1h-1zM85 636h1v1h-1zM84 637h1v1h-1zM83 638h1v1h-1zM80 642h1v1h-1zM79 643h1v1h-1zM78 644h1v1h-1zM74 647h1v1h-1zM73 648h1v1h-1zM72 649h1v1h-1zM68 652h1v1h-1zM66 653h2v1h-2zM0 656h1v1h-1zM62 656h1v1h-1zM1 657h2v1h-2zM6 657h1v1h-1zM61 657h1v1h-1zM7 658h2v1h-2zM60 658h1v1h-1zM12 659h3v1h-3zM18 660h3v1h-3zM24 660h1v1h-1zM55 660h2v1h-2zM25 661h2v1h-2zM30 661h1v1h-1zM54 661h1v1h-1zM31 662h2v1h-2zM48 662h3v1h-3zM36 663h3v1h-3zM42 663h3v1h-3z" fill="#040206" shape-rendering="crispEdges"/><path d="M217 468h3v1h-3zM223 468h2v1h-2zM213 469h1v1h-1zM225 469h1v1h-1zM212 470h1v1h-1zM229 470h1v1h-1zM211 471h1v1h-1zM230 471h1v1h-1zM231 472h1v1h-1zM208 475h1v1h-1zM235 475h2v1h-2zM207 476h1v1h-1zM237 476h1v1h-1zM207 477h1v1h-1zM241 478h3v1h-3zM204 481h1v1h-1zM247 481h1v1h-1zM203 482h1v1h-1zM248 482h1v1h-1zM202 483h1v1h-1zM249 483h1v1h-1zM199 487h1v1h-1zM252 487h1v1h-1zM198 488h1v1h-1zM253 488h1v1h-1zM198 489h1v1h-1zM254 489h1v1h-1zM194 492h1v1h-1zM192 493h2v1h-2zM256 493h1v1h-1zM257 494h1v1h-1zM258 495h1v1h-1zM187 496h2v1h-2zM186 497h1v1h-1zM181 499h2v1h-2zM260 499h1v1h-1zM180 500h1v1h-1zM261 500h1v1h-1zM262 501h1v1h-1zM176 503h1v1h-1zM174 504h2v1h-2zM265 505h1v1h-1zM265 506h1v1h-1zM170 507h1v1h-1zM266 507h1v1h-1zM168 508h2v1h-2zM164 510h1v1h-1zM162 511h2v1h-2zM269 511h1v1h-1zM157 512h2v1h-2zM270 512h1v1h-1zM156 513h1v1h-1zM270 513h1v1h-1zM151 515h2v1h-2zM150 516h1v1h-1zM273 517h1v1h-1zM274 518h1v1h-1zM147 519h1v1h-1zM275 519h1v1h-1zM146 520h1v1h-1zM145 521h1v1h-1zM278 523h1v1h-1zM279 524h1v1h-1zM142 525h1v1h-1zM280 525h1v1h-1zM141 526h1v1h-1zM140 527h1v1h-1zM284 528h1v1h-1zM285 529h1v1h-1zM286 530h1v1h-1zM138 531h1v1h-1zM137 532h1v1h-1zM137 533h1v1h-1zM290 533h1v1h-1zM291 534h1v1h-1zM292 535h1v1h-1zM134 537h1v1h-1zM134 538h1v1h-1zM296 538h1v1h-1zM133 539h1v1h-1zM297 539h1v1h-1zM298 540h1v1h-1zM130 543h1v1h-1zM302 543h2v1h-2zM130 544h1v1h-1zM304 544h1v1h-1zM129 545h1v1h-1zM308 546h2v1h-2zM310 547h1v1h-1zM126 549h1v1h-1zM126 550h1v1h-1zM314 550h1v1h-1zM125 551h1v1h-1zM315 551h1v1h-1zM316 552h1v1h-1zM123 555h1v1h-1zM122 556h1v1h-1zM320 556h1v1h-1zM121 557h1v1h-1zM321 557h1v1h-1zM322 558h1v1h-1zM119 561h1v1h-1zM118 562h1v1h-1zM326 562h1v1h-1zM118 563h1v1h-1zM327 563h1v1h-1zM328 564h1v1h-1zM116 567h1v1h-1zM332 567h1v1h-1zM116 568h1v1h-1zM333 568h1v1h-1zM115 569h1v1h-1zM334 569h1v1h-1zM338 572h1v1h-1zM114 573h1v1h-1zM339 573h2v1h-2zM114 574h1v1h-1zM113 575h1v1h-1zM344 577h1v1h-1zM345 578h2v1h-2zM112 579h1v1h-1zM111 580h1v1h-1zM111 581h1v1h-1zM350 582h2v1h-2zM374 582h3v1h-3zM352 583h1v1h-1zM370 583h1v1h-1zM380 583h2v1h-2zM368 584h2v1h-2zM382 584h1v1h-1zM110 585h1v1h-1zM356 585h1v1h-1zM362 585h3v1h-3zM109 586h1v1h-1zM357 586h2v1h-2zM386 586h2v1h-2zM109 587h1v1h-1zM388 587h1v1h-1zM392 589h2v1h-2zM394 590h1v1h-1zM107 591h1v1h-1zM398 591h3v1h-3zM107 592h1v1h-1zM404 592h3v1h-3zM106 593h1v1h-1zM410 593h3v1h-3zM416 595h2v1h-2zM418 596h1v1h-1zM105 597h1v1h-1zM422 597h1v1h-1zM104 598h1v1h-1zM423 598h2v1h-2zM104 599h1v1h-1zM428 599h1v1h-1zM102 603h1v1h-1zM102 604h1v1h-1zM101 605h1v1h-1zM100 609h1v1h-1zM99 610h1v1h-1zM99 611h1v1h-1zM97 615h1v1h-1zM96 616h1v1h-1zM96 617h1v1h-1zM94 621h1v1h-1zM93 622h1v1h-1zM93 623h1v1h-1zM91 627h1v1h-1zM90 628h1v1h-1zM89 629h1v1h-1zM87 633h1v1h-1zM86 634h1v1h-1zM86 635h1v1h-1zM82 639h1v1h-1zM81 640h1v1h-1zM81 641h1v1h-1zM77 645h1v1h-1zM76 646h1v1h-1zM75 647h1v1h-1zM70 650h2v1h-2zM69 651h1v1h-1zM65 654h1v1h-1zM64 655h1v1h-1zM-3 656h3v1h-3zM63 656h1v1h-1zM3 657h3v1h-3zM9 658h2v1h-2zM59 658h1v1h-1zM11 659h1v1h-1zM15 659h2v1h-2zM57 659h2v1h-2zM17 660h1v1h-1zM21 660h3v1h-3zM27 661h3v1h-3zM52 661h2v1h-2zM33 662h2v1h-2zM51 662h1v1h-1zM35 663h1v1h-1zM39 663h3v1h-3zM45 663h3v1h-3z" fill="#00FF00" shape-rendering="crispEdges"/>
<g shape-rendering="crispEdges"><rect x="0" y="0" width="0" height="0"/>
<rect x="0" y="387" width="639" height="1" fill="#040206"/>
<path d="M0 387h1v1h-1zM4 387h3v1h-3zM10 387h3v1h-3zM16 387h3v1h-3zM22 387h3v1h-3zM28 387h3v1h-3zM34 387h3v1h-3zM40 387h3v1h-3zM46 387h3v1h-3zM52 387h3v1h-3zM58 387h3v1h-3zM64 387h3v1h-3zM70 387h3v1h-3zM76 387h3v1h-3zM82 387h3v1h-3zM88 387h3v1h-3zM94 387h3v1h-3zM100 387h3v1h-3zM106 387h3v1h-3zM112 387h3v1h-3zM118 387h3v1h-3zM124 387h3v1h-3zM130 387h3v1h-3zM136 387h3v1h-3zM142 387h3v1h-3zM148 387h3v1h-3zM154 387h3v1h-3zM160 387h3v1h-3zM166 387h3v1h-3zM172 387h3v1h-3zM178 387h3v1h-3zM184 387h3v1h-3zM190 387h3v1h-3zM196 387h3v1h-3zM202 387h3v1h-3zM208 387h3v1h-3zM214 387h3v1h-3zM220 387h3v1h-3zM226 387h3v1h-3zM232 387h3v1h-3zM238 387h3v1h-3zM244 387h3v1h-3zM250 387h3v1h-3zM256 387h3v1h-3zM262 387h3v1h-3zM268 387h3v1h-3zM274 387h3v1h-3zM280 387h3v1h-3zM286 387h3v1h-3zM292 387h3v1h-3zM298 387h3v1h-3zM304 387h3v1h-3zM310 387h3v1h-3zM316 387h3v1h-3zM322 387h3v1h-3zM328 387h3v1h-3zM334 387h3v1h-3zM340 387h3v1h-3zM346 387h3v1h-3zM352 387h3v1h-3zM358 387h3v1h-3zM364 387h3v1h-3zM370 387h3v1h-3zM376 387h3v1h-3zM382 387h3v1h-3zM388 387h3v1h-3zM394 387h3v1h-3zM400 387h3v1h-3zM406 387h3v1h-3zM412 387h3v1h-3zM418 387h3v1h-3zM424 387h3v1h-3zM430 387h3v1h-3zM436 387h3v1h-3zM442 387h3v1h-3zM448 387h3v1h-3zM454 387h3v1h-3zM460 387h3v1h-3zM466 387h3v1h-3zM472 387h3v1h-3zM478 387h3v1h-3zM484 387h3v1h-3zM490 387h3v1h-3zM496 387h3v1h-3zM502 387h3v1h-3zM508 387h3v1h-3zM514 387h3v1h-3zM520 387h3v1h-3zM526 387h3v1h-3zM532 387h3v1h-3zM538 387h3v1h-3zM544 387h3v1h-3zM550 387h3v1h-3zM556 387h3v1h-3zM562 387h3v1h-3zM568 387h3v1h-3zM574 387h3v1h-3zM580 387h3v1h-3zM586 387h3v1h-3zM592 387h3v1h-3zM598 387h3v1h-3zM604 387h3v1h-3zM610 387h3v1h-3zM616 387h3v1h-3zM622 387h3v1h-3zM628 387h3v1h-3zM634 387h3v1h-3z" fill="#BA55D3"/>
<rect x="0" y="433" width="639" height="1" fill="#040206"/>
<path d="M0 433h1v1h-1zM4 433h3v1h-3zM10 433h3v1h-3zM16 433h3v1h-3zM22 433h3v1h-3zM28 433h3v1h-3zM34 433h3v1h-3zM40 433h3v1h-3zM46 433h3v1h-3zM52 433h3v1h-3zM58 433h3v1h-3zM64 433h3v1h-3zM70 433h3v1h-3zM76 433h3v1h-3zM82 433h3v1h-3zM88 433h3v1h-3zM94 433h3v1h-3zM100 433h3v1h-3zM106 433h3v1h-3zM112 433h3v1h-3zM118 433h3v1h-3zM124 433h3v1h-3zM130 433h3v1h-3zM136 433h3v1h-3zM142 433h3v1h-3zM148 433h3v1h-3zM154 433h3v1h-3zM160 433h3v1h-3zM166 433h3v1h-3zM172 433h3v1h-3zM178 433h3v1h-3zM184 433h3v1h-3zM190 433h3v1h-3zM196 433h3v1h-3zM202 433h3v1h-3zM208 433h3v1h-3zM214 433h3v1h-3zM220 433h3v1h-3zM226 433h3v1h-3zM232 433h3v1h-3zM238 433h3v1h-3zM244 433h3v1h-3zM250 433h3v1h-3zM256 433h3v1h-3zM262 433h3v1h-3zM268 433h3v1h-3zM274 433h3v1h-3zM280 433h3v1h-3zM286 433h3v1h-3zM292 433h3v1h-3zM298 433h3v1h-3zM304 433h3v1h-3zM310 433h3v1h-3zM316 433h3v1h-3zM322 433h3v1h-3zM328 433h3v1h-3zM334 433h3v1h-3zM340 433h3v1h-3zM346 433h3v1h-3zM352 433h3v1h-3zM358 433h3v1h-3zM364 433h3v1h-3zM370 433h3v1h-3zM376 433h3v1h-3zM382 433h3v1h-3zM388 433h3v1h-3zM394 433h3v1h-3zM400 433h3v1h-3zM406 433h3v1h-3zM412 433h3v1h-3zM418 433h3v1h-3zM424 433h3v1h-3zM430 433h3v1h-3zM436 433h3v1h-3zM442 433h3v1h-3zM448 433h3v1h-3zM454 433h3v1h-3zM460 433h3v1h-3zM466 433h3v1h-3zM472 433h3v1h-3zM478 433h3v1h-3zM484 433h3v1h-3zM490 433h3v1h-3zM496 433h3v1h-3zM502 433h3v1h-3zM508 433h3v1h-3zM514 433h3v1h-3zM520 433h3v1h-3zM526 433h3v1h-3zM532 433h3v1h-3zM538 433h3v1h-3zM544 433h3v1h-3zM550 433h3v1h-3zM556 433h3v1h-3zM562 433h3v1h-3zM568 433h3v1h-3zM574 433h3v1h-3zM580 433h3v1h-3zM586 433h3v1h-3zM592 433h3v1h-3zM598 433h3v1h-3zM604 433h3v1h-3zM610 433h3v1h-3zM616 433h3v1h-3zM622 433h3v1h-3zM628 433h3v1h-3zM634 433h3v1h-3z" fill="#BA55D3"/>
<rect x="0" y="480" width="639" height="1" fill="#040206"/>
<path d="M0 480h1v1h-1zM4 480h3v1h-3zM10 480h3v1h-3zM16 480h3v1h-3zM22 480h3v1h-3zM28 480h3v1h-3zM34 480h3v1h-3zM40 480h3v1h-3zM46 480h3v1h-3zM52 480h3v1h-3zM58 480h3v1h-3zM64 480h3v1h-3zM70 480h3v1h-3zM76 480h3v1h-3zM82 480h3v1h-3zM88 480h3v1h-3zM94 480h3v1h-3zM100 480h3v1h-3zM106 480h3v1h-3zM112 480h3v1h-3zM118 480h3v1h-3zM124 480h3v1h-3zM130 480h3v1h-3zM136 480h3v1h-3zM142 480h3v1h-3zM148 480h3v1h-3zM154 480h3v1h-3zM160 480h3v1h-3zM166 480h3v1h-3zM172 480h3v1h-3zM178 480h3v1h-3zM184 480h3v1h-3zM190 480h3v1h-3zM196 480h3v1h-3zM202 480h3v1h-3zM208 480h3v1h-3zM214 480h3v1h-3zM220 480h3v1h-3zM226 480h3v1h-3zM232 480h3v1h-3zM238 480h3v1h-3zM244 480h3v1h-3zM250 480h3v1h-3zM256 480h3v1h-3zM262 480h3v1h-3zM268 480h3v1h-3zM274 480h3v1h-3zM280 480h3v1h-3zM286 480h3v1h-3zM292 480h3v1h-3zM298 480h3v1h-3zM304 480h3v1h-3zM310 480h3v1h-3zM316 480h3v1h-3zM322 480h3v1h-3zM328 480h3v1h-3zM334 480h3v1h-3zM340 480h3v1h-3zM346 480h3v1h-3zM352 480h3v1h-3zM358 480h3v1h-3zM364 480h3v1h-3zM370 480h3v1h-3zM376 480h3v1h-3zM382 480h3v1h-3zM388 480h3v1h-3zM394 480h3v1h-3zM400 480h3v1h-3zM406 480h3v1h-3zM412 480h3v1h-3zM418 480h3v1h-3zM424 480h3v1h-3zM430 480h3v1h-3zM436 480h3v1h-3zM442 480h3v1h-3zM448 480h3v1h-3zM454 480h3v1h-3zM460 480h3v1h-3zM466 480h3v1h-3zM472 480h3v1h-3zM478 480h3v1h-3zM484 480h3v1h-3zM490 480h3v1h-3zM496 480h3v1h-3zM502 480h3v1h-3zM508 480h3v1h-3zM514 480h3v1h-3zM520 480h3v1h-3zM526 480h3v1h-3zM532 480h3v1h-3zM538 480h3v1h-3zM544 480h3v1h-3zM550 480h3v1h-3zM556 480h3v1h-3zM562 480h3v1h-3zM568 480h3v1h-3zM574 480h3v1h-3zM580 480h3v1h-3zM586 480h3v1h-3zM592 480h3v1h-3zM598 480h3v1h-3zM604 480h3v1h-3zM610 480h3v1h-3zM616 480h3v1h-3zM622 480h3v1h-3zM628 480h3v1h-3zM634 480h3v1h-3z" fill="#BA55D3"/>
<rect x="0" y="526" width="639" height="1" fill="#040206"/>
<path d="M0 526h1v1h-1zM4 526h3v1h-3zM10 526h3v1h-3zM16 526h3v1h-3zM22 526h3v1h-3zM28 526h3v1h-3zM34 526h3v1h-3zM40 526h3v1h-3zM46 526h3v1h-3zM52 526h3v1h-3zM58 526h3v1h-3zM64 526h3v1h-3zM70 526h3v1h-3zM76 526h3v1h-3zM82 526h3v1h-3zM88 526h3v1h-3zM94 526h3v1h-3zM100 526h3v1h-3zM106 526h3v1h-3zM112 526h3v1h-3zM118 526h3v1h-3zM124 526h3v1h-3zM130 526h3v1h-3zM136 526h3v1h-3zM142 526h3v1h-3zM148 526h3v1h-3zM154 526h3v1h-3zM160 526h3v1h-3zM166 526h3v1h-3zM172 526h3v1h-3zM178 526h3v1h-3zM184 526h3v1h-3zM190 526h3v1h-3zM196 526h3v1h-3zM202 526h3v1h-3zM208 526h3v1h-3zM214 526h3v1h-3zM220 526h3v1h-3zM226 526h3v1h-3zM232 526h3v1h-3zM238 526h3v1h-3zM244 526h3v1h-3zM250 526h3v1h-3zM256 526h3v1h-3zM262 526h3v1h-3zM268 526h3v1h-3zM274 526h3v1h-3zM280 526h3v1h-3zM286 526h3v1h-3zM292 526h3v1h-3zM298 526h3v1h-3zM304 526h3v1h-3zM310 526h3v1h-3zM316 526h3v1h-3zM322 526h3v1h-3zM328 526h3v1h-3zM334 526h3v1h-3zM340 526h3v1h-3zM346 526h3v1h-3zM352 526h3v1h-3zM358 526h3v1h-3zM364 526h3v1h-3zM370 526h3v1h-3zM376 526h3v1h-3zM382 526h3v1h-3zM388 526h3v1h-3zM394 526h3v1h-3zM400 526h3v1h-3zM406 526h3v1h-3zM412 526h3v1h-3zM418 526h3v1h-3zM424 526h3v1h-3zM430 526h3v1h-3zM436 526h3v1h-3zM442 526h3v1h-3zM448 526h3v1h-3zM454 526h3v1h-3zM460 526h3v1h-3zM466 526h3v1h-3zM472 526h3v1h-3zM478 526h3v1h-3zM484 526h3v1h-3zM490 526h3v1h-3zM496 526h3v1h-3zM502 526h3v1h-3zM508 526h3v1h-3zM514 526h3v1h-3zM520 526h3v1h-3zM526 526h3v1h-3zM532 526h3v1h-3zM538 526h3v1h-3zM544 526h3v1h-3zM550 526h3v1h-3zM556 526h3v1h-3zM562 526h3v1h-3zM568 526h3v1h-3zM574 526h3v1h-3zM580 526h3v1h-3zM586 526h3v1h-3zM592 526h3v1h-3zM598 526h3v1h-3zM604 526h3v1h-3zM610 526h3v1h-3zM616 526h3v1h-3zM622 526h3v1h-3zM628 526h3v1h-3zM634 526h3v1h-3z" fill="#BA55D3"/>
<rect x="0" y="573" width="639" height="1" fill="#040206"/>
<path d="M0 573h1v1h-1zM4 573h3v1h-3zM10 573h3v1h-3zM16 573h3v1h-3zM22 573h3v1h-3zM28 573h3v1h-3zM34 573h3v1h-3zM40 573h3v1h-3zM46 573h3v1h-3zM52 573h3v1h-3zM58 573h3v1h-3zM64 573h3v1h-3zM70 573h3v1h-3zM76 573h3v1h-3zM82 573h3v1h-3zM88 573h3v1h-3zM94 573h3v1h-3zM100 573h3v1h-3zM106 573h3v1h-3zM112 573h3v1h-3zM118 573h3v1h-3zM124 573h3v1h-3zM130 573h3v1h-3zM136 573h3v1h-3zM142 573h3v1h-3zM148 573h3v1h-3zM154 573h3v1h-3zM160 573h3v1h-3zM166 573h3v1h-3zM172 573h3v1h-3zM178 573h3v1h-3zM184 573h3v1h-3zM190 573h3v1h-3zM196 573h3v1h-3zM202 573h3v1h-3zM208 573h3v1h-3zM214 573h3v1h-3zM220 573h3v1h-3zM226 573h3v1h-3zM232 573h3v1h-3zM238 573h3v1h-3zM244 573h3v1h-3zM250 573h3v1h-3zM256 573h3v1h-3zM262 573h3v1h-3zM268 573h3v1h-3zM274 573h3v1h-3zM280 573h3v1h-3zM286 573h3v1h-3zM292 573h3v1h-3zM298 573h3v1h-3zM304 573h3v1h-3zM310 573h3v1h-3zM316 573h3v1h-3zM322 573h3v1h-3zM328 573h3v1h-3zM334 573h3v1h-3zM340 573h3v1h-3zM346 573h3v1h-3zM352 573h3v1h-3zM358 573h3v1h-3zM364 573h3v1h-3zM370 573h3v1h-3zM376 573h3v1h-3zM382 573h3v1h-3zM388 573h3v1h-3zM394 573h3v1h-3zM400 573h3v1h-3zM406 573h3v1h-3zM412 573h3v1h-3zM418 573h3v1h-3zM424 573h3v1h-3zM430 573h3v1h-3zM436 573h3v1h-3zM442 573h3v1h-3zM448 573h3v1h-3zM454 573h3v1h-3zM460 573h3v1h-3zM466 573h3v1h-3zM472 573h3v1h-3zM478 573h3v1h-3zM484 573h3v1h-3zM490 573h3v1h-3zM496 573h3v1h-3zM502 573h3v1h-3zM508 573h3v1h-3zM514 573h3v1h-3zM520 573h3v1h-3zM526 573h3v1h-3zM532 573h3v1h-3zM538 573h3v1h-3zM544 573h3v1h-3zM550 573h3v1h-3zM556 573h3v1h-3zM562 573h3v1h-3zM568 573h3v1h-3zM574 573h3v1h-3zM580 573h3v1h-3zM586 573h3v1h-3zM592 573h3v1h-3zM598 573h3v1h-3zM604 573h3v1h-3zM610 573h3v1h-3zM616 573h3v1h-3zM622 573h3v1h-3zM628 573h3v1h-3zM634 573h3v1h-3z" fill="#BA55D3"/>
<rect x="0" y="619" width="639" height="1" fill="#040206"/>
<path d="M0 619h1v1h-1zM4 619h3v1h-3zM10 619h3v1h-3zM16 619h3v1h-3zM22 619h3v1h-3zM28 619h3v1h-3zM34 619h3v1h-3zM40 619h3v1h-3zM46 619h3v1h-3zM52 619h3v1h-3zM58 619h3v1h-3zM64 619h3v1h-3zM70 619h3v1h-3zM76 619h3v1h-3zM82 619h3v1h-3zM88 619h3v1h-3zM94 619h3v1h-3zM100 619h3v1h-3zM106 619h3v1h-3zM112 619h3v1h-3zM118 619h3v1h-3zM124 619h3v1h-3zM130 619h3v1h-3zM136 619h3v1h-3zM142 619h3v1h-3zM148 619h3v1h-3zM154 619h3v1h-3zM160 619h3v1h-3zM166 619h3v1h-3zM172 619h3v1h-3zM178 619h3v1h-3zM184 619h3v1h-3zM190 619h3v1h-3zM196 619h3v1h-3zM202 619h3v1h-3zM208 619h3v1h-3zM214 619h3v1h-3zM220 619h3v1h-3zM226 619h3v1h-3zM232 619h3v1h-3zM238 619h3v1h-3zM244 619h3v1h-3zM250 619h3v1h-3zM256 619h3v1h-3zM262 619h3v1h-3zM268 619h3v1h-3zM274 619h3v1h-3zM280 619h3v1h-3zM286 619h3v1h-3zM292 619h3v1h-3zM298 619h3v1h-3zM304 619h3v1h-3zM310 619h3v1h-3zM316 619h3v1h-3zM322 619h3v1h-3zM328 619h3v1h-3zM334 619h3v1h-3zM340 619h3v1h-3zM346 619h3v1h-3zM352 619h3v1h-3zM358 619h3v1h-3zM364 619h3v1h-3zM370 619h3v1h-3zM376 619h3v1h-3zM382 619h3v1h-3zM388 619h3v1h-3zM394 619h3v1h-3zM400 619h3v1h-3zM406 619h3v1h-3zM412 619h3v1h-3zM418 619h3v1h-3zM424 619h3v1h-3zM430 619h3v1h-3zM436 619h3v1h-3zM442 619h3v1h-3zM448 619h3v1h-3zM454 619h3v1h-3zM460 619h3v1h-3zM466 619h3v1h-3zM472 619h3v1h-3zM478 619h3v1h-3zM484 619h3v1h-3zM490 619h3v1h-3zM496 619h3v1h-3zM502 619h3v1h-3zM508 619h3v1h-3zM514 619h3v1h-3zM520 619h3v1h-3zM526 619h3v1h-3zM532 619h3v1h-3zM538 619h3v1h-3zM544 619h3v1h-3zM550 619h3v1h-3zM556 619h3v1h-3zM562 619h3v1h-3zM568 619h3v1h-3zM574 619h3v1h-3zM580 619h3v1h-3zM586 619h3v1h-3zM592 619h3v1h-3zM598 619h3v1h-3zM604 619h3v1h-3zM610 619h3v1h-3zM616 619h3v1h-3zM622 619h3v1h-3zM628 619h3v1h-3zM634 619h3v1h-3z" fill="#BA55D3"/>
<rect x="0" y="666" width="639" height="1" fill="#040206"/>
<path d="M0 666h1v1h-1zM4 666h3v1h-3zM10 666h3v1h-3zM16 666h3v1h-3zM22 666h3v1h-3zM28 666h3v1h-3zM34 666h3v1h-3zM40 666h3v1h-3zM46 666h3v1h-3zM52 666h3v1h-3zM58 666h3v1h-3zM64 666h3v1h-3zM70 666h3v1h-3zM76 666h3v1h-3zM82 666h3v1h-3zM88 666h3v1h-3zM94 666h3v1h-3zM100 666h3v1h-3zM106 666h3v1h-3zM112 666h3v1h-3zM118 666h3v1h-3zM124 666h3v1h-3zM130 666h3v1h-3zM136 666h3v1h-3zM142 666h3v1h-3zM148 666h3v1h-3zM154 666h3v1h-3zM160 666h3v1h-3zM166 666h3v1h-3zM172 666h3v1h-3zM178 666h3v1h-3zM184 666h3v1h-3zM190 666h3v1h-3zM196 666h3v1h-3zM202 666h3v1h-3zM208 666h3v1h-3zM214 666h3v1h-3zM220 666h3v1h-3zM226 666h3v1h-3zM232 666h3v1h-3zM238 666h3v1h-3zM244 666h3v1h-3zM250 666h3v1h-3zM256 666h3v1h-3zM262 666h3v1h-3zM268 666h3v1h-3zM274 666h3v1h-3zM280 666h3v1h-3zM286 666h3v1h-3zM292 666h3v1h-3zM298 666h3v1h-3zM304 666h3v1h-3zM310 666h3v1h-3zM316 666h3v1h-3zM322 666h3v1h-3zM328 666h3v1h-3zM334 666h3v1h-3zM340 666h3v1h-3zM346 666h3v1h-3zM352 666h3v1h-3zM358 666h3v1h-3zM364 666h3v1h-3zM370 666h3v1h-3zM376 666h3v1h-3zM382 666h3v1h-3zM388 666h3v1h-3zM394 666h3v1h-3zM400 666h3v1h-3zM406 666h3v1h-3zM412 666h3v1h-3zM418 666h3v1h-3zM424 666h3v1h-3zM430 666h3v1h-3zM436 666h3v1h-3zM442 666h3v1h-3zM448 666h3v1h-3zM454 666h3v1h-3zM460 666h3v1h-3zM466 666h3v1h-3zM472 666h3v1h-3zM478 666h3v1h-3zM484 666h3v1h-3zM490 666h3v1h-3zM496 666h3v1h-3zM502 666h3v1h-3zM508 666h3v1h-3zM514 666h3v1h-3zM520 666h3v1h-3zM526 666h3v1h-3zM532 666h3v1h-3zM538 666h3v1h-3zM544 666h3v1h-3zM550 666h3v1h-3zM556 666h3v1h-3zM562 666h3v1h-3zM568 666h3v1h-3zM574 666h3v1h-3zM580 666h3v1h-3zM586 666h3v1h-3zM592 666h3v1h-3zM598 666h3v1h-3zM604 666h3v1h-3zM610 666h3v1h-3zM616 666h3v1h-3zM622 666h3v1h-3zM628 666h3v1h-3zM634 666h3v1h-3z" fill="#BA55D3"/>
</g>
<path d="M184 368h1v1h-1zM185 369h1v1h-1zM186 370h1v1h-1zM190 374h1v1h-1zM191 375h1v1h-1zM192 376h1v1h-1zM195 380h1v1h-1zM196 381h1v1h-1zM197 382h1v1h-1zM201 386h1v1h-1zM202 387h1v1h-1zM203 388h1v1h-1zM207 392h1v1h-1zM208 393h1v1h-1zM209 394h1v1h-1zM213 398h1v1h-1zM214 399h1v1h-1zM215 400h1v1h-1zM218 404h1v1h-1zM219 405h1v1h-1zM220 406h1v1h-1zM224 410h1v1h-1zM225 411h1v1h-1zM226 412h1v1h-1zM230 416h1v1h-1zM231 417h1v1h-1zM232 418h1v1h-1zM236 422h1v1h-1zM237 423h1v1h-1zM238 424h1v1h-1zM241 428h1v1h-1zM242 429h1v1h-1zM243 430h1v1h-1zM247 434h1v1h-1zM248 435h1v1h-1zM249 436h1v1h-1zM253 440h1v1h-1zM254 441h1v1h-1zM255 442h1v1h-1zM259 446h1v1h-1zM260 447h1v1h-1zM261 448h1v1h-1zM265 452h1v1h-1zM265 453h1v1h-1zM266 454h1v1h-1zM270 458h1v1h-1zM271 459h1v1h-1zM272 460h1v1h-1zM276 464h1v1h-1zM277 465h1v1h-1zM278 466h1v1h-1zM282 470h1v1h-1zM283 471h1v1h-1zM284 472h1v1h-1zM288 476h1v1h-1zM289 477h1v1h-1zM289 478h1v1h-1zM293 482h1v1h-1zM294 483h1v1h-1zM295 484h1v1h-1zM299 488h1v1h-1zM300 489h1v1h-1zM301 490h1v1h-1zM305 494h1v1h-1zM306 495h1v1h-1zM307 496h1v1h-1zM311 500h1v1h-1zM312 501h1v1h-1zM313 502h1v1h-1zM316 506h1v1h-1zM317 507h1v1h-1zM318 508h1v1h-1zM322 512h1v1h-1zM323 513h1v1h-1zM324 514h1v1h-1zM328 518h1v1h-1zM329 519h1v1h-1zM330 520h1v1h-1zM334 524h1v1h-1zM335 525h1v1h-1zM336 526h1v1h-1zM339 530h1v1h-1zM340 531h1v1h-1zM341 532h1v1h-1zM345 536h1v1h-1zM346 537h1v1h-1zM347 538h1v1h-1zM351 542h1v1h-1zM352 543h1v1h-1zM353 544h1v1h-1zM357 548h1v1h-1zM358 549h1v1h-1zM359 550h1v1h-1zM362 554h1v1h-1zM363 555h1v1h-1zM364 556h1v1h-1zM368 560h1v1h-1zM369 561h1v1h-1zM370 562h1v1h-1zM374 566h1v1h-1zM375 567h1v1h-1zM376 568h1v1h-1zM380 572h1v1h-1zM381 573h1v1h-1zM382 574h1v1h-1zM385 578h1v1h-1zM386 579h1v1h-1zM387 580h1v1h-1zM391 584h1v1h-1zM392 585h1v1h-1zM393 586h1v1h-1zM397 590h1v1h-1zM398 591h1v1h-1zM399 592h1v1h-1zM403 596h1v1h-1zM404 597h1v1h-1zM405 598h1v1h-1zM409 602h1v1h-1zM409 603h1v1h-1zM410 604h1v1h-1zM414 608h1v1h-1zM415 609h1v1h-1zM416 610h1v1h-1zM420 614h1v1h-1zM421 615h1v1h-1zM422 616h1v1h-1zM426 620h1v1h-1zM427 621h1v1h-1zM428 622h1v1h-1zM432 626h1v1h-1zM433 627h1v1h-1zM433 628h1v1h-1zM437 632h1v1h-1zM438 633h1v1h-1zM439 634h1v1h-1zM443 638h1v1h-1zM444 639h1v1h-1zM445 640h1v1h-1zM449 644h1v1h-1zM450 645h1v1h-1zM451 646h1v1h-1zM455 650h1v1h-1zM456 651h1v1h-1zM457 652h1v1h-1zM460 656h1v1h-1zM461 657h1v1h-1zM462 658h1v1h-1zM466 662h1v1h-1zM467 663h1v1h-1zM468 664h1v1h-1zM472 668h1v1h-1zM473 669h1v1h-1zM474 670h1v1h-1zM478 674h1v1h-1zM479 675h1v1h-1zM480 676h1v1h-1z" fill="#040206" shape-rendering="crispEdges"/><path d="M181 365h1v1h-1zM182 366h1v1h-1zM183 367h1v1h-1zM187 371h1v1h-1zM188 372h1v1h-1zM189 373h1v1h-1zM193 377h1v1h-1zM193 378h1v1h-1zM194 379h1v1h-1zM198 383h1v1h-1zM199 384h1v1h-1zM200 385h1v1h-1zM204 389h1v1h-1zM205 390h1v1h-1zM206 391h1v1h-1zM210 395h1v1h-1zM211 396h1v1h-1zM212 397h1v1h-1zM216 401h1v1h-1zM217 402h1v1h-1zM217 403h1v1h-1zM221 407h1v1h-1zM222 408h1v1h-1zM223 409h1v1h-1zM227 413h1v1h-1zM228 414h1v1h-1zM229 415h1v1h-1zM233 419h1v1h-1zM234 420h1v1h-1zM235 421h1v1h-1zM239 425h1v1h-1zM240 426h1v1h-1zM241 427h1v1h-1zM244 431h1v1h-1zM245 432h1v1h-1zM246 433h1v1h-1zM250 437h1v1h-1zM251 438h1v1h-1zM252 439h1v1h-1zM256 443h1v1h-1zM257 444h1v1h-1zM258 445h1v1h-1zM262 449h1v1h-1zM263 450h1v1h-1zM264 451h1v1h-1zM267 455h1v1h-1zM268 456h1v1h-1zM269 457h1v1h-1zM273 461h1v1h-1zM274 462h1v1h-1zM275 463h1v1h-1zM279 467h1v1h-1zM280 468h1v1h-1zM281 469h1v1h-1zM285 473h1v1h-1zM286 474h1v1h-1zM287 475h1v1h-1zM290 479h1v1h-1zM291 480h1v1h-1zM292 481h1v1h-1zM296 485h1v1h-1zM297 486h1v1h-1zM298 487h1v1h-1zM302 491h1v1h-1zM303 492h1v1h-1zM304 493h1v1h-1zM308 497h1v1h-1zM309 498h1v1h-1zM310 499h1v1h-1zM313 503h1v1h-1zM314 504h1v1h-1zM315 505h1v1h-1zM319 509h1v1h-1zM320 510h1v1h-1zM321 511h1v1h-1zM325 515h1v1h-1zM326 516h1v1h-1zM327 517h1v1h-1zM331 521h1v1h-1zM332 522h1v1h-1zM333 523h1v1h-1zM337 527h1v1h-1zM337 528h1v1h-1zM338 529h1v1h-1zM342 533h1v1h-1zM343 534h1v1h-1zM344 535h1v1h-1zM348 539h1v1h-1zM349 540h1v1h-1zM350 541h1v1h-1zM354 545h1v1h-1zM355 546h1v1h-1zM356 547h1v1h-1zM360 551h1v1h-1zM361 552h1v1h-1zM361 553h1v1h-1zM365 557h1v1h-1zM366 558h1v1h-1zM367 559h1v1h-1zM371 563h1v1h-1zM372 564h1v1h-1zM373 565h1v1h-1zM377 569h1v1h-1zM378 570h1v1h-1zM379 571h1v1h-1zM383 575h1v1h-1zM384 576h1v1h-1zM385 577h1v1h-1zM388 581h1v1h-1zM389 582h1v1h-1zM390 583h1v1h-1zM394 587h1v1h-1zM395 588h1v1h-1zM396 589h1v1h-1zM400 593h1v1h-1zM401 594h1v1h-1zM402 595h1v1h-1zM406 599h1v1h-1zM407 600h1v1h-1zM408 601h1v1h-1zM411 605h1v1h-1zM412 606h1v1h-1zM413 607h1v1h-1zM417 611h1v1h-1zM418 612h1v1h-1zM419 613h1v1h-1zM423 617h1v1h-1zM424 618h1v1h-1zM425 619h1v1h-1zM429 623h1v1h-1zM430 624h1v1h-1zM431 625h1v1h-1zM434 629h1v1h-1zM435 630h1v1h-1zM436 631h1v1h-1zM440 635h1v1h-1zM441 636h1v1h-1zM442 637h1v1h-1zM446 641h1v1h-1zM447 642h1v1h-1zM448 643h1v1h-1zM452 647h1v1h-1zM453 648h1v1h-1zM454 649h1v1h-1zM457 653h1v1h-1zM458 654h1v1h-1zM459 655h1v1h-1zM463 659h1v1h-1zM464 660h1v1h-1zM465 661h1v1h-1zM469 665h1v1h-1zM470 666h1v1h-1zM471 667h1v1h-1zM475 671h1v1h-1zM476 672h1v1h-1zM477 673h1v1h-1zM481 677h1v1h-1zM482 678h1v1h-1z" fill="#FFFFFF" shape-rendering="crispEdges"/>
<g shape-rendering="crispEdges" fill="#FFFFFF">
<rect x="639" y="354" width="1" height="1"/>
</g>
<g class="tx">
<text transform="translate(0 390) scale(0.86 1)" x="744.89 750.71" y="0" style="fill:#FFFFFF;stroke:#FFFFFF">80</text>
<text transform="translate(0 436) scale(0.86 1)" x="744.89 750.71" y="0" style="fill:#FFFFFF;stroke:#FFFFFF">70</text>
<text transform="translate(0 483) scale(0.86 1)" x="744.86 750.71" y="0" style="fill:#FFFFFF;stroke:#FFFFFF">60</text>
<text transform="translate(0 529) scale(0.86 1)" x="744.90 750.71" y="0" style="fill:#FFFFFF;stroke:#FFFFFF">50</text>
<text transform="translate(0 576) scale(0.86 1)" x="744.93 750.71" y="0" style="fill:#FFFFFF;stroke:#FFFFFF">40</text>
<text transform="translate(0 622) scale(0.86 1)" x="744.92 750.71" y="0" style="fill:#FFFFFF;stroke:#FFFFFF">30</text>
<text transform="translate(0 669) scale(0.86 1)" x="744.89 750.71" y="0" style="fill:#FFFFFF;stroke:#FFFFFF">20</text>
<text transform="translate(0 363) scale(0.86 1)" x="746.06 751.87 758.49 761.62 766.99 772.80 778.61" y="0" style="fill:#FFFFFF;stroke:#FFFFFF">87.1087</text>
</g>
<rect x="642" y="666" width="34" height="13" fill="#040206" shape-rendering="crispEdges"/>
<rect x="639" y="677" width="1" height="1" fill="#FFFFFF" shape-rendering="crispEdges"/>
<g class="tx"><text transform="translate(0 675) scale(0.86 1)" x="746.50 751.87 758.49 761.18 766.99 772.80" y="0" style="fill:#FFFFFF;stroke:#FFFFFF">17.508</text></g>
<path d="M31 26h1v1h-1zM31 27h2v1h-2zM31 28h1v1h-1zM33 28h1v1h-1zM31 29h1v1h-1zM34 29h1v1h-1zM31 30h1v1h-1zM35 30h1v1h-1zM31 31h1v1h-1zM36 31h1v1h-1zM31 32h1v1h-1zM37 32h1v1h-1zM31 33h1v1h-1zM38 33h1v1h-1zM31 34h1v1h-1zM39 34h1v1h-1zM31 35h1v1h-1zM40 35h1v1h-1zM31 36h1v1h-1zM37 36h5v1h-5zM31 37h1v1h-1zM38 37h1v1h-1zM31 38h1v1h-1zM33 38h2v1h-2zM38 38h1v1h-1zM31 39h2v1h-2zM35 39h1v1h-1zM39 39h1v1h-1zM31 40h1v1h-1zM36 40h1v1h-1zM39 40h1v1h-1zM36 41h1v1h-1zM39 41h1v1h-1zM37 42h2v1h-2z" fill="#FFFFFF" shape-rendering="crispEdges"/>
</svg></body></html>
